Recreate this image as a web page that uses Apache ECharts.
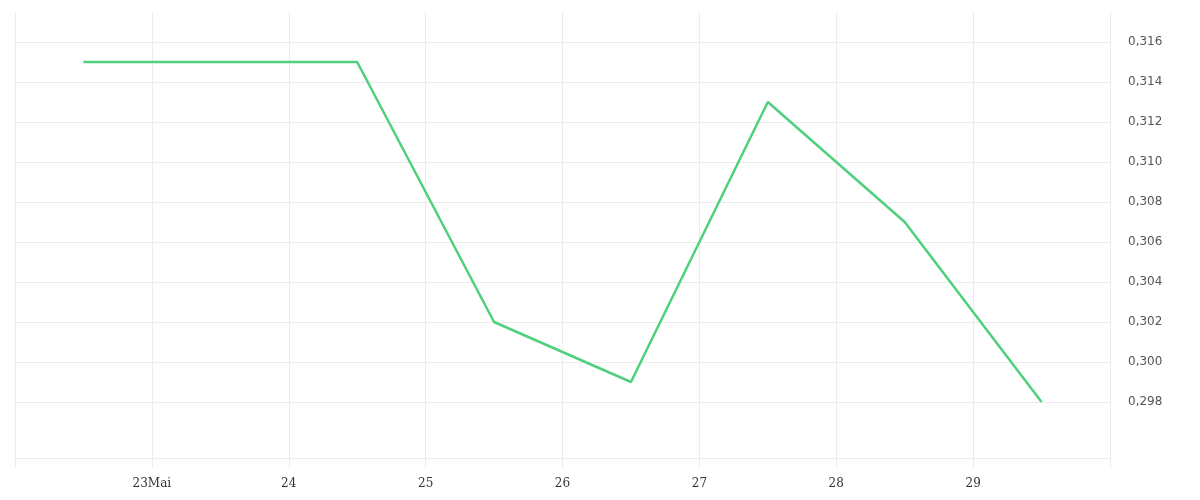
<!DOCTYPE html>
<html>
<head>
<meta charset="utf-8">
<script src="https://cdn.jsdelivr.net/npm/echarts@6/dist/echarts.min.js"></script>
<style>
  html, body { margin: 0; padding: 0; background: #fff; }
  #chart { width: 1200px; height: 500px; }
</style>
</head>
<body>
<div id="chart"></div>
<script>
// day of May (12:00 of each day) and values
const days = [22.5, 23.5, 24.5, 25.5, 26.5, 27.5, 28.5, 29.5];
const values = [0.315, 0.315, 0.315, 0.302, 0.299, 0.313, 0.307, 0.298];
const yTicks = [0.298, 0.300, 0.302, 0.304, 0.306, 0.308, 0.310, 0.312, 0.314, 0.316];
const monthLabel = 'Mai';

const chart = echarts.init(document.getElementById('chart'));

chart.setOption({
  animation: false,
  grid: { left: 15, right: 90, top: 12, bottom: 42 },
  xAxis: {
    type: 'value',
    min: 22,
    max: 30,
    interval: 1,
    axisLine: { show: true, lineStyle: { color: '#ececec', width: 1 } },
    axisTick: { show: true, length: 10, lineStyle: { color: '#ececec' } },
    splitLine: { show: true, lineStyle: { color: '#ececec' } },
    axisLabel: {
      margin: 20,
      color: '#333',
      fontFamily: 'DejaVu Serif',
      fontSize: 12,
      formatter: v => (v === 23 ? '23' + monthLabel : (v > 23 && v < 30 ? String(v) : ''))
    }
  },
  yAxis: {
    type: 'value',
    position: 'right',
    min: 0.2952,
    max: 0.3175,
    axisLine: { show: false },
    axisTick: { show: false, customValues: yTicks },
    splitLine: { show: true, lineStyle: { color: '#ececec' } },
    axisLabel: {
      customValues: yTicks,
      margin: 18,
      padding: [4, 0, 0, 0],
      color: '#555',
      fontFamily: 'DejaVu Sans',
      fontSize: 12,
      formatter: v => v.toFixed(3).replace('.', ',')
    }
  },
  series: [{
    type: 'line',
    data: days.map((d, i) => [d, values[i]]),
    showSymbol: false,
    lineStyle: { color: '#4fd07c', width: 2.5 },
    itemStyle: { color: '#4fd07c' }
  }]
});
</script>
</body>
</html>
